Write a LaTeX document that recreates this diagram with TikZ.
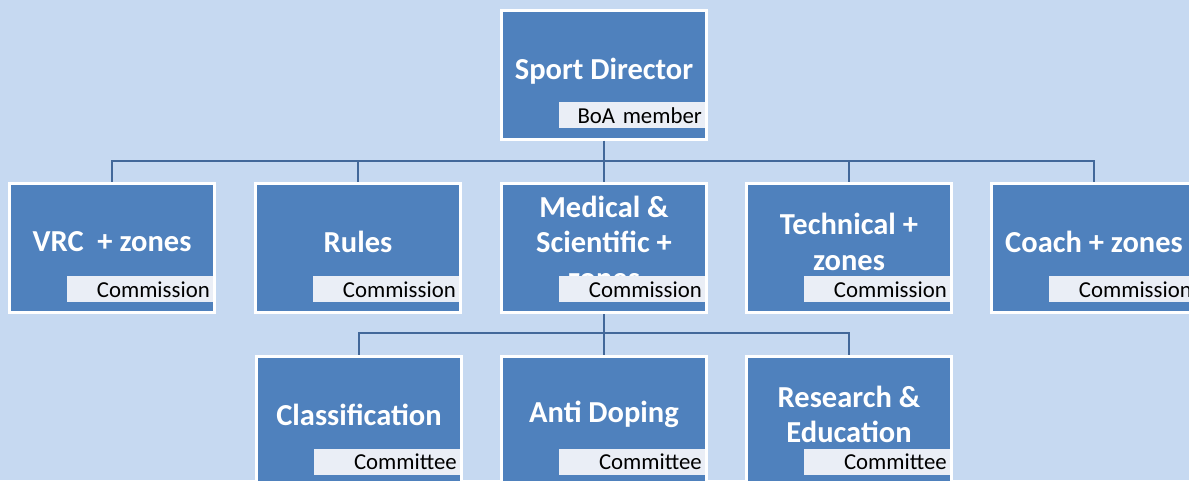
\documentclass[tikz,border=0pt]{standalone}
\usepackage{fontspec}
\setmainfont{Carlito}
\definecolor{bg}{RGB}{198,217,241}
\definecolor{boxblue}{RGB}{79,129,189}
\definecolor{lab}{RGB}{234,238,246}
\definecolor{conn}{RGB}{66,104,154}
\begin{document}
\begin{tikzpicture}[x=1pt,y=-1pt,
  orgbox/.style={draw=white, line width=3pt, fill=boxblue, minimum width=205pt, minimum height=129pt, inner sep=0pt},
  title/.style={text=white, font=\bfseries\fontsize{30.5}{35.5}\selectfont, align=center, inner sep=0pt},
  tag/.style={fill=lab, minimum height=26pt, inner ysep=0pt, inner xsep=3.5pt, text width=139pt, align=right, anchor=south east, xshift=-2.5pt, yshift=11.5pt, font=\fontsize{22.8}{26}\selectfont, text=black},
  link/.style={draw=conn, line width=2.8pt}]
\useasboundingbox (0,0) rectangle (1189,480);
\clip (0,0) rectangle (1189,480);
\fill[bg] (0,0) rectangle (1189,480);

\coordinate (hubA) at (604,161);
\coordinate (hubB) at (604,333);

% boxes
\node[orgbox] (sd) at (604,74.5) {};
\node[orgbox] (vrc) at (112,248) {};
\node[orgbox] (rules) at (358,248) {};
\node[orgbox] (med) at (604,248) {};
\node[orgbox] (tech) at (849,248) {};
\node[orgbox] (coach) at (1094,248) {};
\node[orgbox] (class) at (359,420.5) {};
\node[orgbox] (anti) at (604,420.5) {};
\node[orgbox] (res) at (849,420.5) {};

% connectors
\draw[link] (sd.south) -- (hubA);
\foreach \b in {vrc,rules,med,tech,coach} \draw[link] (hubA) -| (\b.north);
\draw[link] (med.south) -- (hubB);
\foreach \b in {class,anti,res} \draw[link] (hubB) -| (\b.north);

% titles
\node[title, yshift=3pt] (sdt) at (sd.center) {Sport Director};
\node[title, yshift=6pt] (vrct) at (vrc.center) {VRC\ \ + zones};
\node[title, yshift=6pt] (rulest) at (rules.center) {Rules};
\node[title, yshift=6pt] (medt) at (med.center) {Medical \&\\Scientific +\\zones};
\node[title, yshift=6pt] (techt) at (tech.center) {Technical +\\zones};
\node[title, yshift=6pt] (coacht) at (coach.center) {Coach + zones};
\node[title, yshift=6pt] (classt) at (class.center) {Classification};
\node[title, yshift=6pt] (antit) at (anti.center) {Anti Doping};
\node[title, yshift=6pt] (rest) at (res.center) {Research \&\\Education};

% tags
\node[tag, yshift=0.5pt] (sdl) at (sd.south east) {BoA member};
\node[tag] (vrcl) at (vrc.south east) {Commission};
\node[tag] (rulesl) at (rules.south east) {Commission};
\node[tag] (medl) at (med.south east) {Commission};
\node[tag] (techl) at (tech.south east) {Commission};
\node[tag] (coachl) at (coach.south east) {Commission};
\node[tag] (classl) at (class.south east) {Committee};
\node[tag] (antil) at (anti.south east) {Committee};
\node[tag] (resl) at (res.south east) {Committee};
\end{tikzpicture}
\end{document}
